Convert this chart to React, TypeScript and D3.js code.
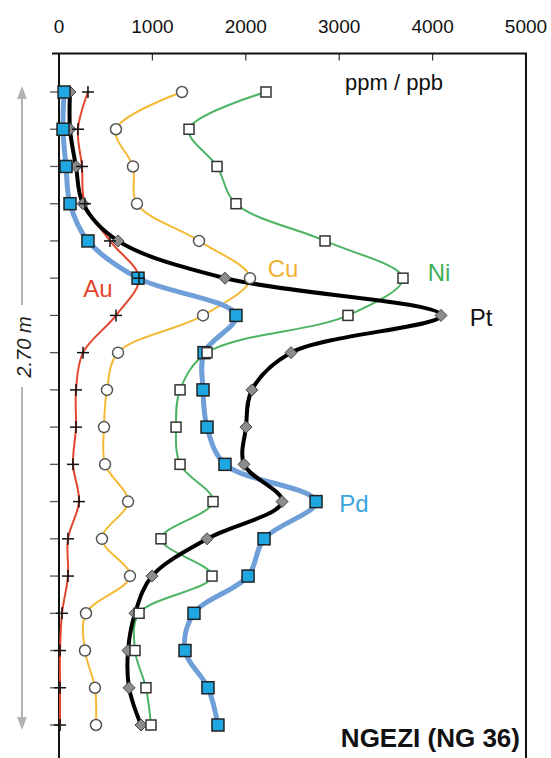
import React from "react";
import * as d3 from "d3";

const W = 551;
const H = 758;

// sample positions (top to bottom) along the 2.70 m section
const samples = [1, 2, 3, 4, 5, 6, 7, 8, 9, 10, 11, 12, 13, 14, 15, 16, 17, 18];

// concentrations (ppb for Au, Pt, Pd; ppm for Cu, Ni)
const au = [310, 203, 246, 278, 546, 857, 610, 257, 182, 182, 150, 214, 96, 96, 32, 11, 11, 11];
const cu = [1317, 610, 792, 835, 1499, 2045, 1542, 632, 514, 482, 493, 739, 460, 760, 289, 278, 385, 396];
const ni = [2216, 1392, 1692, 1895, 2848, 3683, 3094, 1585, 1296, 1253, 1296, 1649, 1092, 1638, 857, 814, 931, 985];
const pt = [118, 118, 182, 257, 632, 1777, 4090, 2484, 2066, 2002, 1981, 2388, 1585, 996, 814, 739, 750, 878];
const pd = [54, 43, 75, 118, 310, 846, 1895, 1553, 1542, 1585, 1777, 2752, 2195, 2024, 1445, 1349, 1595, 1702];

const xTicks = [0, 1000, 2000, 3000, 4000, 5000];

const FONT = "'Liberation Sans', Arial, Helvetica, sans-serif";

export default function App() {
  const left = 59;
  const right = 526;
  const top = 53.5;
  const x = d3.scaleLinear().domain([0, 5000]).range([left, right]);
  const y = d3.scaleLinear().domain([1, 18]).range([92, 725]);

  const line = (vals: number[]) =>
    d3
      .line<number>()
      .x((v) => x(v))
      .y((_, i) => y(samples[i]))
      .curve(d3.curveCatmullRom.alpha(0.5))(vals) || "";

  const diamond = (cx: number, cy: number, r: number) =>
    `M${cx},${cy - r}L${cx + r},${cy}L${cx},${cy + r}L${cx - r},${cy}Z`;

  return (
    <svg
      width={W}
      height={H}
      style={{ position: "absolute", left: 0, top: 0, background: "#fff" }}
      fontFamily={FONT}
    >
      <rect x={0} y={0} width={W} height={H} fill="#fff" />

      {/* top axis labels */}
      {xTicks.map((t) => (
        <text key={t} x={x(t)} y={33} textAnchor="middle" fontSize={19} fill="#111">
          {t}
        </text>
      ))}
      {/* inner top ticks */}
      {xTicks.slice(1, -1).map((t) => (
        <line key={t} x1={x(t)} x2={x(t)} y1={top} y2={top + 7} stroke="#333" strokeWidth={1.2} />
      ))}

      {/* left outward ticks */}
      {samples.map((s) => (
        <line key={s} x1={left - 9} x2={left} y1={y(s)} y2={y(s)} stroke="#555" strokeWidth={1.3} />
      ))}

      {/* frame */}
      <line x1={left - 7} x2={right + 1} y1={top} y2={top} stroke="#111" strokeWidth={2} />
      <line x1={left} x2={left} y1={top} y2={H} stroke="#111" strokeWidth={2} />
      <line x1={right} x2={right} y1={top} y2={H} stroke="#111" strokeWidth={2} />

      {/* depth arrow */}
      <g stroke="#b3b3b3" strokeWidth={2} fill="#b3b3b3">
        <line x1={22} x2={22} y1={96} y2={305} />
        <line x1={22} x2={22} y1={387} y2={720} />
        <path d="M22,86 L17,99 L27,99 Z" stroke="none" />
        <path d="M22,730 L17,717 L27,717 Z" stroke="none" />
      </g>
      <text
        transform="translate(31,347) rotate(-90)"
        textAnchor="middle"
        fontSize={20}
        fontStyle="italic"
        fill="#222"
      >
        2.70 m
      </text>

      {/* lines */}
      <path d={line(ni)} fill="none" stroke="#4db463" strokeWidth={2} />
      <path d={line(cu)} fill="none" stroke="#f4b935" strokeWidth={2} />
      <path d={line(pd)} fill="none" stroke="#6f9fd8" strokeWidth={5} />
      <path d={line(au)} fill="none" stroke="#e3452f" strokeWidth={2} />
      <path d={line(pt)} fill="none" stroke="#000" strokeWidth={4} />

      {/* markers */}
      {pt.map((v, i) => (
        <path key={"pt" + i} d={diamond(x(v), y(samples[i]), 6)} fill="#8c8c8c" stroke="#444" strokeWidth={1} />
      ))}
      {pd.map((v, i) => (
        <rect
          key={"pd" + i}
          x={x(v) - 6}
          y={y(samples[i]) - 6}
          width={12}
          height={12}
          fill="#1ea7e1"
          stroke="#222"
          strokeWidth={1.5}
        />
      ))}
      {ni.map((v, i) => (
        <rect
          key={"ni" + i}
          x={x(v) - 5}
          y={y(samples[i]) - 5}
          width={10}
          height={10}
          fill="#fff"
          stroke="#333"
          strokeWidth={1.5}
        />
      ))}
      {cu.map((v, i) => (
        <circle key={"cu" + i} cx={x(v)} cy={y(samples[i])} r={5.5} fill="#fff" stroke="#555" strokeWidth={1.5} />
      ))}
      {au.map((v, i) => (
        <g key={"au" + i} stroke="#111" strokeWidth={1.5}>
          <line x1={x(v) - 6} x2={x(v) + 6} y1={y(samples[i])} y2={y(samples[i])} />
          <line x1={x(v)} x2={x(v)} y1={y(samples[i]) - 6} y2={y(samples[i]) + 6} />
        </g>
      ))}

      {/* labels */}
      <text x={394} y={90} textAnchor="middle" fontSize={22} fill="#111">
        ppm / ppb
      </text>
      <text x={98} y={297} textAnchor="middle" fontSize={24} fill="#e3452f">
        Au
      </text>
      <text x={283} y={277} textAnchor="middle" fontSize={24} fill="#f2b233">
        Cu
      </text>
      <text x={439} y={281} textAnchor="middle" fontSize={24} fill="#3fae5a">
        Ni
      </text>
      <text x={481} y={326} textAnchor="middle" fontSize={24} fill="#111">
        Pt
      </text>
      <text x={354} y={512} textAnchor="middle" fontSize={24} fill="#3aa5dc">
        Pd
      </text>
      <text x={520} y={747} textAnchor="end" fontSize={26} fontWeight="bold" fill="#111">
        NGEZI (NG 36)
      </text>
    </svg>
  );
}
